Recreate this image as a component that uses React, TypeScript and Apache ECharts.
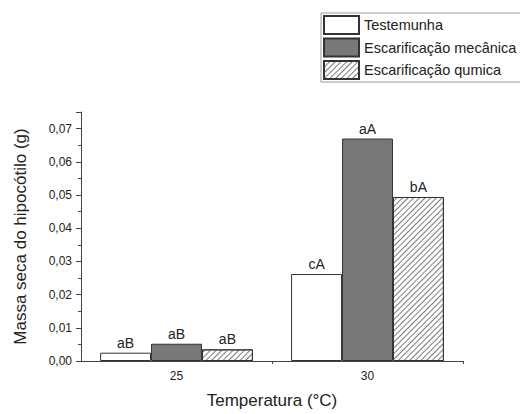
import React, { useEffect, useRef } from "react";
import * as echarts from "echarts";

const categories = ["25", "30"];
const seriesNames = ["Testemunha", "Escarificação mecânica", "Escarificação qumica"];
const testemunha = [0.0025, 0.0262];
const mecanica = [0.0052, 0.067];
const quimica = [0.0035, 0.0494];
const letrasTestemunha = ["aB", "cA"];
const letrasMecanica = ["aB", "aA"];
const letrasQuimica = ["aB", "bA"];
const minorTickSlots = ["", "", ""];

export default function App() {
  const ref = useRef<HTMLDivElement>(null);
  useEffect(() => {
    if (!ref.current) return;
    const chart = echarts.init(ref.current, null, { renderer: "svg" });
    const font = "'Liberation Sans', Arial, sans-serif";
    const txt = "#222";
    const axisColor = "#444";
    const mkLabel = (letters: string[]) => ({
      show: true,
      position: "top",
      distance: 3,
      fontSize: 14,
      fontFamily: font,
      color: txt,
      formatter: (p: any) => letters[p.dataIndex],
    });
    const border = { borderColor: "#333", borderWidth: 1 };
    chart.setOption({
      animation: false,
      textStyle: { fontFamily: font },
      legend: {
        orient: "vertical",
        left: 321,
        top: 13,
        padding: [2, 6, 2, 2],
        itemGap: 2.5,
        itemWidth: 35,
        itemHeight: 18,
        icon: "rect",
        borderColor: "#999",
        borderWidth: 1,
        borderRadius: 0,
        data: seriesNames,
        textStyle: { fontSize: 14.5, color: txt, fontFamily: font },
      },
      grid: { left: 81, right: 57, top: 112, bottom: 51.5 },
      xAxis: [
        {
          type: "category",
          data: categories,
          position: "bottom",
          name: "Temperatura (°C)",
          nameLocation: "middle",
          nameGap: 31,
          nameTextStyle: { fontSize: 17, color: txt, fontFamily: font },
          axisLine: { lineStyle: { color: axisColor, width: 1 } },
          axisTick: { alignWithLabel: true, length: 5, lineStyle: { color: axisColor } },
          axisLabel: { fontSize: 12, color: txt, margin: 9, fontFamily: font },
        },
        {
          type: "category",
          data: minorTickSlots,
          position: "bottom",
          boundaryGap: false,
          axisLine: { show: false },
          axisLabel: { show: false },
          axisTick: {
            show: true,
            length: 3,
            interval: (i: number) => i === 1 || i === 2,
            lineStyle: { color: axisColor },
          },
        },
      ],
      yAxis: {
        type: "value",
        min: 0,
        max: 0.075,
        interval: 0.01,
        name: "Massa seca do hipocótilo (g)",
        nameLocation: "middle",
        nameGap: 52,
        nameTextStyle: { fontSize: 17, color: txt, fontFamily: font },
        axisLine: { show: true, lineStyle: { color: axisColor, width: 1 } },
        axisTick: { show: true, length: 5, lineStyle: { color: axisColor } },
        minorTick: { show: true, splitNumber: 2, length: 3, lineStyle: { color: axisColor } },
        splitLine: { show: false },
        axisLabel: {
          fontSize: 12,
          color: txt,
          margin: 9,
          fontFamily: font,
          showMaxLabel: false,
          formatter: (v: number) =>
            Math.abs(v * 100 - Math.round(v * 100)) < 1e-6 ? v.toFixed(2).replace(".", ",") : "",
        },
      },
      series: [
        {
          name: seriesNames[0],
          type: "bar",
          data: testemunha,
          barGap: 0,
          barCategoryGap: "20%",
          itemStyle: { color: "#ffffff", ...border },
          label: mkLabel(letrasTestemunha),
        },
        {
          name: seriesNames[1],
          type: "bar",
          data: mecanica,
          barGap: 0,
          barCategoryGap: "20%",
          itemStyle: { color: "#787878", ...border },
          label: mkLabel(letrasMecanica),
        },
        {
          name: seriesNames[2],
          type: "bar",
          data: quimica,
          barGap: 0,
          barCategoryGap: "20%",
          itemStyle: {
            color: "#ffffff",
            ...border,
            decal: {
              symbol: "rect",
              color: "#7a7a7a",
              dashArrayX: [1, 0],
              dashArrayY: [1, 3],
              rotation: -Math.PI / 4,
              symbolSize: 1,
            },
          },
          label: mkLabel(letrasQuimica),
        },
      ],
    });
    return () => chart.dispose();
  }, []);
  return <div ref={ref} style={{ width: 520, height: 414, position: "absolute", left: 0, top: 0 }} />;
}
